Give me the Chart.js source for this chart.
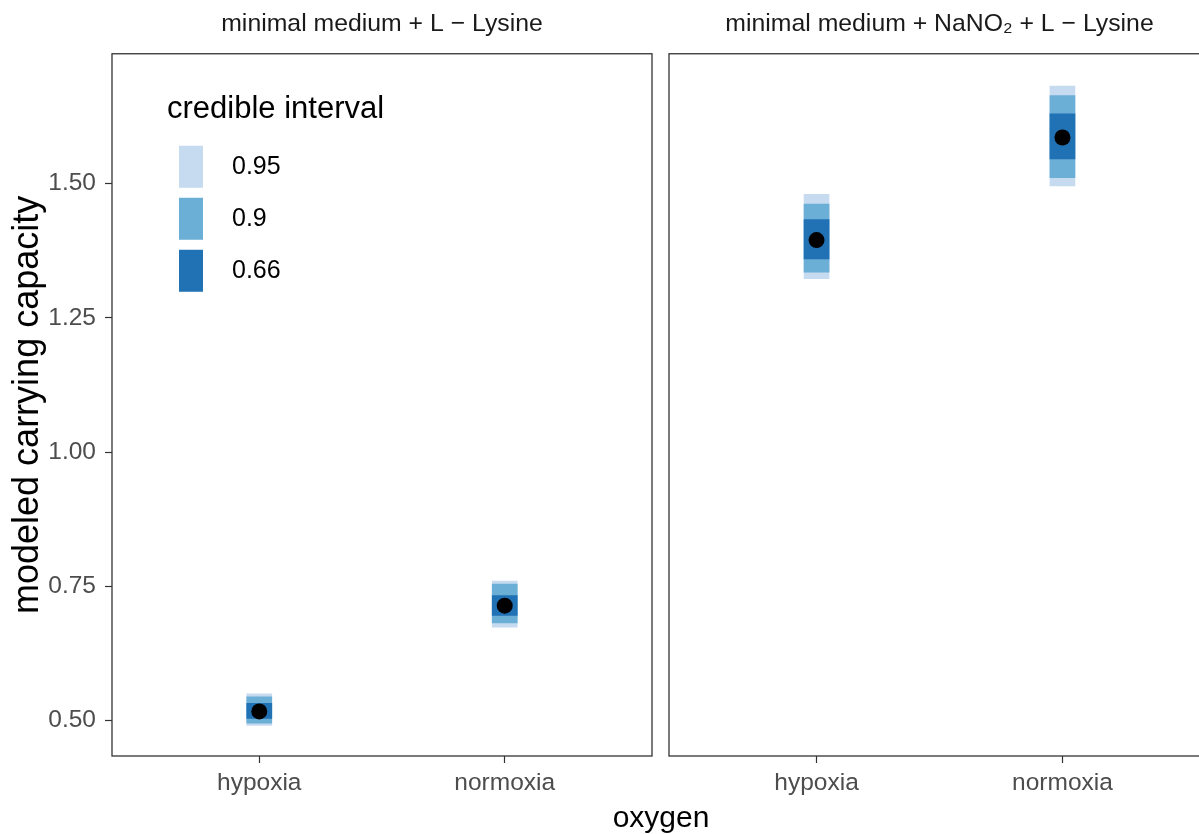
<!DOCTYPE html>
<html>
<head>
<meta charset="utf-8">
<title>modeled carrying capacity</title>
<script src="https://cdn.jsdelivr.net/npm/chart.js@4.4.1/dist/chart.umd.min.js"></script>
<style>
  html, body { margin: 0; padding: 0; background: #fff; overflow: hidden; }
  #wrap { position: relative; width: 1199px; height: 834px; overflow: hidden; }
  #wrap canvas { position: absolute; top: 0; }
  #left { left: 0; }
  #right { left: 660px; }
</style>
</head>
<body>
<div id="wrap">
  <canvas id="left" width="760" height="834"></canvas>
  <canvas id="right" width="560" height="834"></canvas>
</div>
<script>
const oxygenLevels = ['hypoxia', 'normoxia'];
const intervalLabels = ['0.95', '0.9', '0.66'];
const intervalColors = ['#c6dbef', '#6baed6', '#2171b5'];
const yTicks = [0.5, 0.75, 1.0, 1.25, 1.5];

// minimal medium + L-Lysine
const lysineMedian = [0.517, 0.714];
const lysine95 = [[0.491, 0.550], [0.674, 0.760]];
const lysine90 = [[0.495, 0.544], [0.682, 0.754]];
const lysine66 = [[0.504, 0.532], [0.696, 0.733]];

// minimal medium + NaNO2 + L-Lysine
const nitriteMedian = [1.395, 1.586];
const nitrite95 = [[1.323, 1.480], [1.496, 1.682]];
const nitrite90 = [[1.335, 1.462], [1.511, 1.664]];
const nitrite66 = [[1.360, 1.433], [1.546, 1.630]];

const FONT = '"Liberation Sans", Arial, sans-serif';
Chart.defaults.font.family = FONT;
Chart.defaults.color = '#000';

function panelDatasets(median, ci95, ci90, ci66) {
    const sets = [ci95, ci90, ci66].map((ranges, k) => ({
        type: 'bar',
        label: intervalLabels[k],
        data: ranges.map((r, i) => ({ x: i + 1, y: r })),
        backgroundColor: intervalColors[k],
        borderWidth: 0,
        grouped: false,
        barThickness: 25,
        order: 3 - k,
    }));
    sets.push({
        type: 'line',
        label: 'median',
        data: median.map((v, i) => ({ x: i + 1, y: v })),
        showLine: false,
        pointRadius: 8,
        pointHoverRadius: 8,
        pointBackgroundColor: '#000',
        pointBorderWidth: 0,
        order: 0,
    });
    return sets;
}

const tickGrid = {
    drawOnChartArea: false,
    offset: false,
    tickLength: 7,
    tickColor: '#333333',
    tickWidth: 1.2,
};

function xScale() {
    return {
        type: 'linear',
        min: 0.4,
        max: 2.6,
        offset: false,
        afterBuildTicks: s => { s.ticks = oxygenLevels.map((_, i) => ({ value: i + 1 })); },
        afterFit: s => { s.height = 78; },
        ticks: {
            callback: v => oxygenLevels[v - 1],
            font: { size: 24.5 },
            color: '#4d4d4d',
            padding: 6,
            maxRotation: 0,
            autoSkip: false,
        },
        grid: tickGrid,
        border: { display: false },
    };
}

function panelTitle(text) {
    return {
        display: true,
        text: text,
        fullSize: false,
        position: 'top',
        color: '#1a1a1a',
        font: { size: 24.8, weight: 'normal' },
        padding: { top: 9, bottom: 15 },
    };
}

// box drawn round each facet
const panelBorder = {
    id: 'panelBorder',
    afterDraw(chart) {
        const { ctx, chartArea: a } = chart;
        ctx.save();
        ctx.strokeStyle = '#333333';
        ctx.lineWidth = 1.3;
        ctx.strokeRect(a.left, a.top, a.right - a.left, a.bottom - a.top);
        ctx.restore();
    }
};

// ggplot style legend sitting inside the first facet
const intervalLegend = {
    id: 'intervalLegend',
    afterDraw(chart, args, opts) {
        const { ctx, chartArea: { left, top } } = chart;
        ctx.save();
        ctx.textAlign = 'left';
        ctx.textBaseline = 'middle';
        ctx.fillStyle = '#000';
        ctx.font = '31px ' + FONT;
        ctx.fillText(opts.title, left + 55, top + 56);
        ctx.font = '25px ' + FONT;
        chart.data.datasets.filter(d => d.type === 'bar').forEach((ds, i) => {
            const y = top + 92 + i * 52;
            ctx.fillStyle = ds.backgroundColor;
            ctx.fillRect(left + 67, y, 24, 42);
            ctx.fillStyle = '#000';
            ctx.fillText(ds.label, left + 120, y + 21);
        });
        ctx.restore();
    }
};

// x title shared by both facets
const sharedAxisTitle = {
    id: 'sharedAxisTitle',
    afterDraw(chart, args, opts) {
        const { ctx, chartArea } = chart;
        ctx.save();
        ctx.font = '30px ' + FONT;
        ctx.fillStyle = '#000';
        ctx.textAlign = 'center';
        ctx.textBaseline = 'middle';
        ctx.fillText(opts.text, opts.x, chartArea.bottom + 63);
        ctx.restore();
    }
};

new Chart(document.getElementById('left'), {
    type: 'bar',
    data: { datasets: panelDatasets(lysineMedian, lysine95, lysine90, lysine66) },
    options: {
        responsive: false,
        animation: false,
        layout: { padding: { left: 0, top: 0, right: 108, bottom: 0 } },
        plugins: {
            legend: { display: false },
            tooltip: { enabled: false },
            title: panelTitle('minimal medium + L \u2212 Lysine'),
            intervalLegend: { title: 'credible interval' },
            sharedAxisTitle: { text: 'oxygen', x: 661 },
        },
        scales: {
            x: xScale(),
            y: {
                type: 'linear',
                min: 0.434,
                max: 1.742,
                afterBuildTicks: s => { s.ticks = yTicks.map(v => ({ value: v })); },
                afterFit: s => { s.width = 112; },
                ticks: {
                    callback: v => v.toFixed(2),
                    font: { size: 24.5 },
                    color: '#4d4d4d',
                    padding: 9,
                },
                grid: tickGrid,
                border: { display: false },
                title: {
                    display: true,
                    text: 'modeled carrying capacity',
                    font: { size: 36 },
                    color: '#000',
                    padding: { top: 6, bottom: 0 },
                },
            },
        },
    },
    plugins: [panelBorder, intervalLegend, sharedAxisTitle],
});

new Chart(document.getElementById('right'), {
    type: 'bar',
    data: { datasets: panelDatasets(nitriteMedian, nitrite95, nitrite90, nitrite66) },
    options: {
        responsive: false,
        animation: false,
        layout: { padding: { left: 9, top: 0, right: 10, bottom: 0 } },
        plugins: {
            legend: { display: false },
            tooltip: { enabled: false },
            title: panelTitle('minimal medium + NaNO\u2082 + L \u2212 Lysine'),
        },
        scales: {
            x: xScale(),
            y: { type: 'linear', min: 0.434, max: 1.742, display: false },
        },
    },
    plugins: [panelBorder],
});
</script>
</body>
</html>
